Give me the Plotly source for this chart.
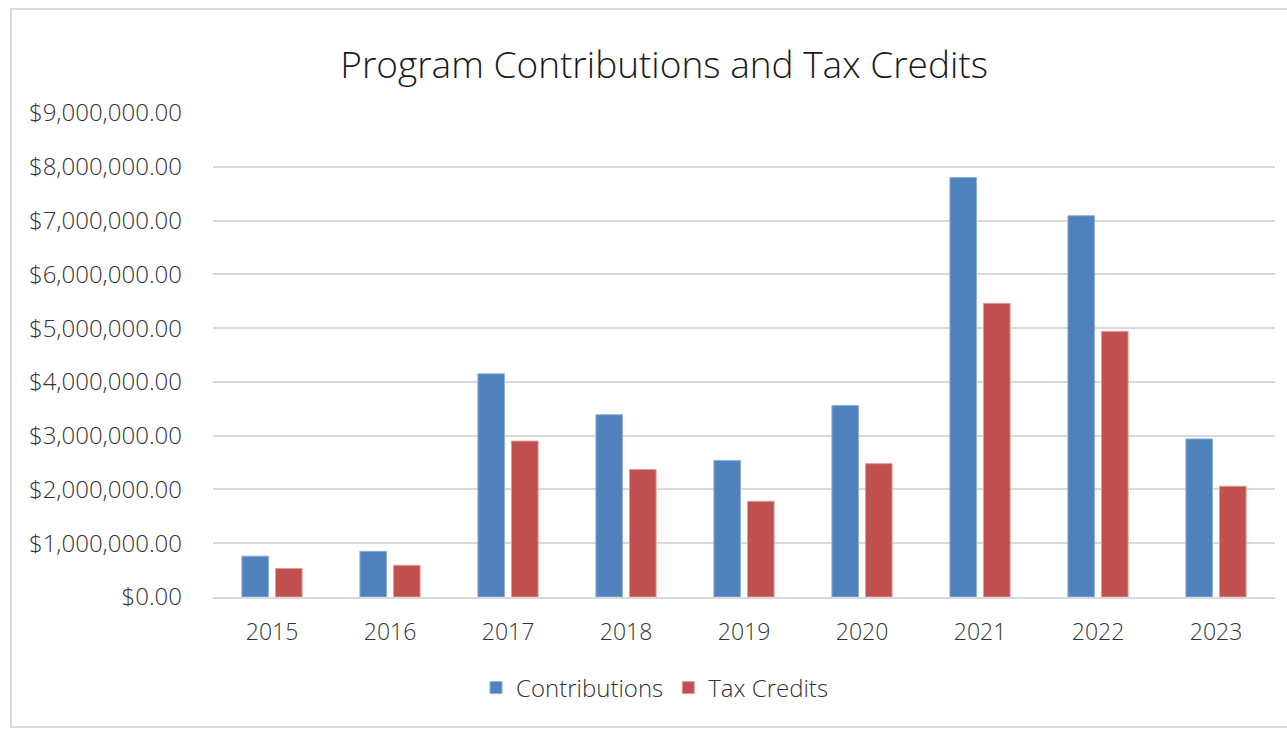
import plotly.graph_objects as go

years = ["2015", "2016", "2017", "2018", "2019", "2020", "2021", "2022", "2023"]
contributions = [760000, 850000, 4150000, 3390000, 2540000, 3560000, 7800000, 7090000, 2940000]
tax_credits = [530000, 590000, 2900000, 2370000, 1780000, 2480000, 5460000, 4940000, 2060000]
y_ticks = [0, 1e6, 2e6, 3e6, 4e6, 5e6, 6e6, 7e6, 8e6, 9e6]
y_tick_labels = ["$%s" % format(v, ",.2f") for v in y_ticks]

FONT = "Open Sans"
TXT = "#333333"

fig = go.Figure()
fig.add_trace(go.Bar(x=years, y=contributions, name="Contributions",
                     marker=dict(color="#4F81BD", line=dict(color="#8FB0DA", width=1))))
fig.add_trace(go.Bar(x=years, y=tax_credits, name="Tax Credits",
                     marker=dict(color="#C0504D", line=dict(color="#E29A98", width=1))))

fig.update_layout(
    width=1287, height=729,
    margin=dict(l=213, r=12, t=113, b=132),
    paper_bgcolor="white", plot_bgcolor="white",
    barmode="group", bargap=0.43, bargroupgap=0.21,
    font=dict(family=FONT, color=TXT, size=24, weight=300),
    title=dict(text="Program Contributions and Tax Credits", xref="container", yref="container",
               x=0.516, y=1 - 65 / 729, xanchor="center", yanchor="middle",
               font=dict(family=FONT, size=37, color="#1a1a1a", weight=300)),
    legend=dict(orientation="h", xref="container", yref="container",
                x=655 / 1287, y=1 - 688 / 729, xanchor="center", yanchor="middle",
                font=dict(family=FONT, size=24, color=TXT, weight=300),
                itemwidth=30, traceorder="normal"),
    showlegend=True,
)
fig.update_xaxes(showgrid=False, showline=True, linecolor="#D9D9D9", linewidth=2,
                 ticks="", ticklabelstandoff=13,
                 tickfont=dict(family=FONT, size=23, color=TXT, weight=300))
fig.update_yaxes(range=[0, 9e6], tickvals=y_ticks, ticktext=y_tick_labels,
                 showgrid=True, gridcolor="#D9D9D9", gridwidth=2, zeroline=False,
                 showline=False, ticks="", ticklabelstandoff=30,
                 tickfont=dict(family=FONT, size=24, color=TXT, weight=300))

fig.add_shape(type="rect", xref="paper", yref="paper",
              x0=-202 / 1062, x1=1.05, y0=-130 / 484, y1=1 + 104 / 484,
              line=dict(color="#D9D9D9", width=2), layer="below")

fig.write_html("out.html")
